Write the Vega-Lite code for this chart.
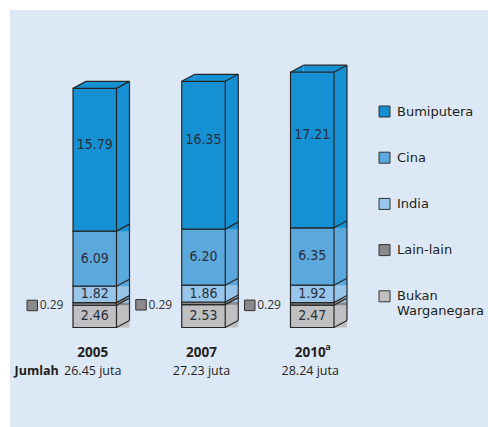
{
  "$schema": "https://vega.github.io/schema/vega-lite/v6.json",
  "width": 478,
  "height": 417,
  "autosize": {"type": "none"},
  "padding": {"left": 10, "top": 10, "right": 0, "bottom": 0},
  "background": "#ffffff",
  "config": {"view": {"fill": "#dce8f5", "stroke": null}},
  "datasets": {
    "seg": [
      {"year": "2005", "group": "Bukan Warganegara", "value": 2.46},
      {"year": "2005", "group": "Lain-lain", "value": 0.29},
      {"year": "2005", "group": "India", "value": 1.82},
      {"year": "2005", "group": "Cina", "value": 6.09},
      {"year": "2005", "group": "Bumiputera", "value": 15.79},
      {"year": "2007", "group": "Bukan Warganegara", "value": 2.53},
      {"year": "2007", "group": "Lain-lain", "value": 0.29},
      {"year": "2007", "group": "India", "value": 1.86},
      {"year": "2007", "group": "Cina", "value": 6.20},
      {"year": "2007", "group": "Bumiputera", "value": 16.35},
      {"year": "2010", "group": "Bukan Warganegara", "value": 2.47},
      {"year": "2010", "group": "Lain-lain", "value": 0.29},
      {"year": "2010", "group": "India", "value": 1.92},
      {"year": "2010", "group": "Cina", "value": 6.35},
      {"year": "2010", "group": "Bumiputera", "value": 17.21}
    ],
    "years": [
      {"year": "2005", "label": "2005", "total": "26.45 juta"},
      {"year": "2007", "label": "2007", "total": "27.23 juta"},
      {"year": "2010", "label": "2010", "sup": "a", "total": "28.24 juta"}
    ]
  },
  "data": {"name": "seg"},
  "transform": [{"stack": "value", "groupby": ["year"], "as": ["y0", "y1"]}],
  "layer": [
    {
      "mark": {"type": "bar", "xOffset": 13, "yOffset": -7, "strokeWidth": 0},
      "encoding": {
        "x": {"field": "year", "type": "nominal", "scale": {"paddingInner": 0.6, "paddingOuter": 0.9977, "align": 0.2903}, "axis": null},
        "y": {"field": "y1", "type": "quantitative", "scale": {"domain": [-11.007, 35.122], "nice": false, "zero": false}, "axis": null},
        "y2": {"field": "y0"},
        "color": {
          "field": "group", "type": "nominal",
          "scale": {"domain": ["Bumiputera", "Cina", "India", "Lain-lain", "Bukan Warganegara"], "range": ["#1591d3", "#5aa8dc", "#98c6ea", "#8a8a8c", "#c0c0c2"]},
          "legend": {"orient": "none", "legendX": 368, "legendY": 95, "title": null, "symbolType": "square", "symbolSize": 121, "symbolStrokeColor": "#333333", "symbolStrokeWidth": 1, "symbolOpacity": 1, "labelFont": "DejaVu Sans", "labelFontSize": 13, "labelColor": "#231f20", "labelOffset": 6, "rowPadding": 31.2, "padding": 0, "labelExpr": "split(datum.label, ' ')"}
        }
      }
    },
    {
      "mark": {"type": "point", "shape": "M0,0L0,-7L13,-7Z", "size": 4, "filled": true, "opacity": 1, "strokeWidth": 0},
      "encoding": {
        "x": {"field": "year", "type": "nominal", "bandPosition": 1},
        "y": {"field": "y0", "type": "quantitative"},
        "color": {"field": "group", "type": "nominal"}
      }
    },
    {
      "transform": [{"filter": "datum.group == 'Bumiputera'"}],
      "mark": {"type": "point", "shape": "M0,0L13,-7L13,0Z", "size": 4, "filled": true, "opacity": 1, "strokeWidth": 0},
      "encoding": {
        "x": {"field": "year", "type": "nominal", "bandPosition": 0},
        "y": {"field": "y1", "type": "quantitative"},
        "color": {"field": "group", "type": "nominal"}
      }
    },
    {
      "mark": {"type": "bar", "stroke": "#262626", "strokeWidth": 1.2},
      "encoding": {
        "x": {"field": "year", "type": "nominal"},
        "y": {"field": "y1", "type": "quantitative"},
        "y2": {"field": "y0"},
        "color": {"field": "group", "type": "nominal"}
      }
    },
    {
      "mark": {"type": "rule", "stroke": "#262626", "strokeWidth": 1.2, "x2Offset": 13, "y2Offset": -7},
      "encoding": {
        "x": {"field": "year", "type": "nominal", "bandPosition": 1},
        "x2": {"field": "year", "bandPosition": 1},
        "y": {"field": "y0", "type": "quantitative"},
        "y2": {"field": "y0"}
      }
    },
    {
      "mark": {"type": "rule", "stroke": "#262626", "strokeWidth": 1.2, "xOffset": 13, "yOffset": -7, "y2Offset": -7},
      "encoding": {
        "x": {"field": "year", "type": "nominal", "bandPosition": 1},
        "y": {"field": "y1", "type": "quantitative"},
        "y2": {"field": "y0"}
      }
    },
    {
      "transform": [{"filter": "datum.group == 'Bumiputera'"}],
      "layer": [
        {
          "mark": {"type": "rule", "stroke": "#262626", "strokeWidth": 1.2, "x2Offset": 13, "y2Offset": -7},
          "encoding": {
            "x": {"field": "year", "type": "nominal", "bandPosition": 1},
            "x2": {"field": "year", "bandPosition": 1},
            "y": {"field": "y1", "type": "quantitative"},
            "y2": {"field": "y1"}
          }
        },
        {
          "mark": {"type": "rule", "stroke": "#262626", "strokeWidth": 1.2, "x2Offset": 13, "y2Offset": -7},
          "encoding": {
            "x": {"field": "year", "type": "nominal", "bandPosition": 0},
            "x2": {"field": "year", "bandPosition": 0},
            "y": {"field": "y1", "type": "quantitative"},
            "y2": {"field": "y1"}
          }
        },
        {
          "mark": {"type": "rule", "stroke": "#262626", "strokeWidth": 1.2, "xOffset": 13, "x2Offset": 13, "yOffset": -7},
          "encoding": {
            "x": {"field": "year", "type": "nominal", "bandPosition": 0},
            "x2": {"field": "year", "bandPosition": 1},
            "y": {"field": "y1", "type": "quantitative"}
          }
        }
      ]
    },
    {
      "transform": [
        {"fold": ["y0", "y1"], "as": ["k", "v"]},
        {"aggregate": [{"op": "mean", "field": "v", "as": "ymid"}], "groupby": ["year", "group", "value"]}
      ],
      "layer": [
        {
          "transform": [{"filter": "datum.group != 'Lain-lain' && datum.group != 'Bumiputera'"}],
          "mark": {"type": "text", "font": "DejaVu Sans Condensed", "fontSize": 14, "color": "#2a2f3a", "baseline": "middle"},
          "encoding": {
            "x": {"field": "year", "type": "nominal"},
            "y": {"field": "ymid", "type": "quantitative"},
            "text": {"field": "value", "type": "quantitative", "format": ".2f"}
          }
        },
        {
          "transform": [{"filter": "datum.group == 'Bumiputera'"}],
          "mark": {"type": "text", "font": "DejaVu Sans Condensed", "fontSize": 14, "color": "#2a2f3a", "baseline": "middle", "dy": -15},
          "encoding": {
            "x": {"field": "year", "type": "nominal"},
            "y": {"field": "ymid", "type": "quantitative"},
            "text": {"field": "value", "type": "quantitative", "format": ".2f"}
          }
        },
        {
          "transform": [{"filter": "datum.group == 'Lain-lain'"}],
          "mark": {"type": "square", "size": 110, "fill": "#8a8a8c", "stroke": "#333333", "strokeWidth": 1, "opacity": 1, "xOffset": -62.5, "yOffset": 1.5},
          "encoding": {
            "x": {"field": "year", "type": "nominal"},
            "y": {"field": "ymid", "type": "quantitative"}
          }
        },
        {
          "transform": [{"filter": "datum.group == 'Lain-lain'"}],
          "mark": {"type": "text", "font": "Open Sans", "fontSize": 12, "color": "#333333", "baseline": "middle", "align": "left", "dx": -55, "dy": 1.5},
          "encoding": {
            "x": {"field": "year", "type": "nominal"},
            "y": {"field": "ymid", "type": "quantitative"},
            "text": {"field": "value", "type": "quantitative", "format": ".2f"}
          }
        }
      ]
    },
    {
      "data": {"name": "years"},
      "layer": [
        {
          "mark": {"type": "text", "font": "Open Sans", "fontSize": 13.5, "fontWeight": "bold", "color": "#231f20", "baseline": "middle", "dy": 26, "dx": -2},
          "encoding": {
            "x": {"field": "year", "type": "nominal"},
            "y": {"datum": 0, "type": "quantitative"},
            "text": {"field": "label"}
          }
        },
        {
          "transform": [{"filter": "isValid(datum.sup)"}],
          "mark": {"type": "text", "font": "Open Sans", "fontSize": 9, "fontWeight": "bold", "color": "#231f20", "baseline": "middle", "align": "left", "dy": 20, "dx": 13},
          "encoding": {
            "x": {"field": "year", "type": "nominal"},
            "y": {"datum": 0, "type": "quantitative"},
            "text": {"field": "sup"}
          }
        },
        {
          "mark": {"type": "text", "font": "Open Sans", "fontSize": 12.5, "color": "#231f20", "baseline": "middle", "dy": 43.5, "dx": -2},
          "encoding": {
            "x": {"field": "year", "type": "nominal"},
            "y": {"datum": 0, "type": "quantitative"},
            "text": {"field": "total"}
          }
        }
      ]
    },
    {
      "data": {"values": [{"t": "Jumlah"}]},
      "mark": {"type": "text", "font": "Open Sans", "fontSize": 12.5, "fontWeight": "bold", "color": "#231f20", "baseline": "middle", "align": "right", "dy": 43.5, "dx": -36},
      "encoding": {
        "x": {"datum": "2005", "type": "nominal"},
        "y": {"datum": 0, "type": "quantitative"},
        "text": {"field": "t"}
      }
    }
  ]
}
